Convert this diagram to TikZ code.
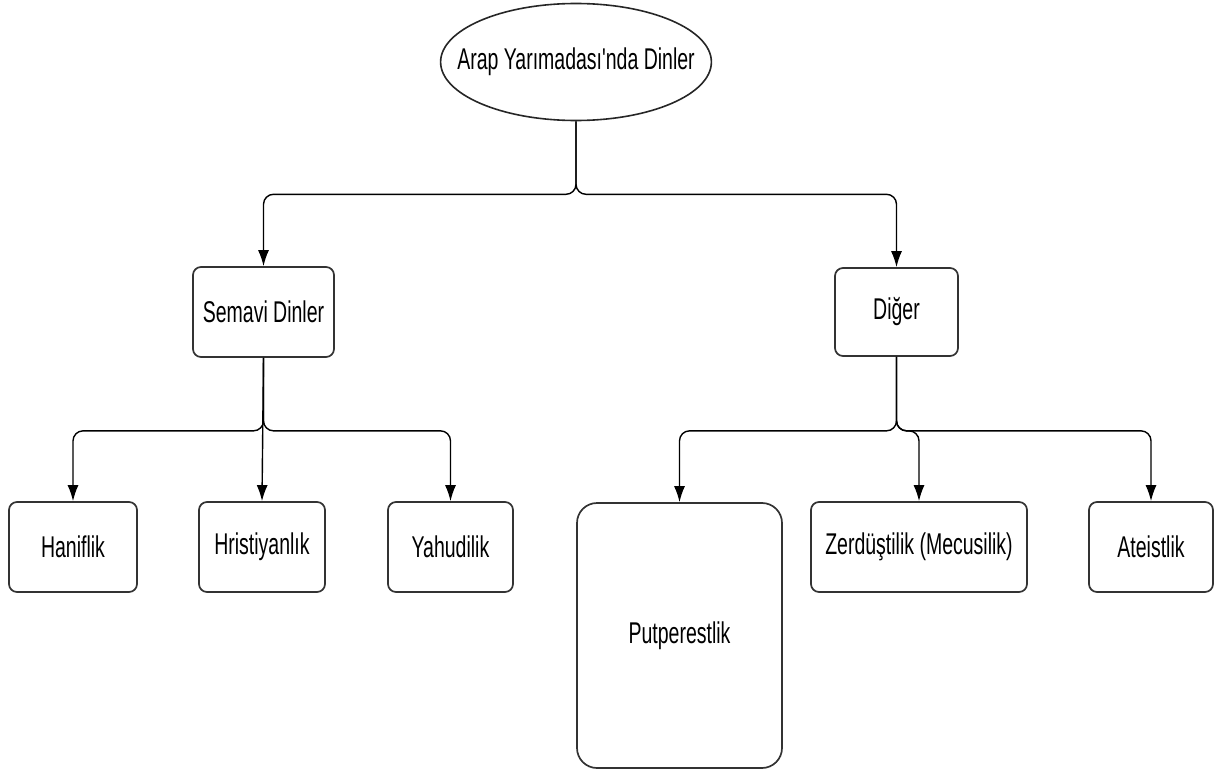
\documentclass[tikz,border=0pt]{standalone}
\usepackage{fontspec}
\setmainfont[FakeStretch=0.65, Ligatures=TeXOff]{Liberation Sans}
\usetikzlibrary{arrows.meta,shapes.geometric}
\begin{document}
\begin{tikzpicture}[x=1pt,y=-1pt,
  every node/.style={font=\fontsize{30}{33}\selectfont, text=black},
  box/.style={draw=black!80, line width=1.7pt, rounded corners=8pt, inner sep=0pt, minimum height=90pt},
  bigbox/.style={box, rounded corners=20pt},
  conn/.style={draw=black, line width=1.4pt, rounded corners=10pt, -{Latex[length=16pt,width=11pt]}}]
\useasboundingbox (0,0) rectangle (1216,776);
\node[ellipse, draw=black!85, line width=1.6pt, minimum width=267pt, minimum height=117pt, inner xsep=-23pt, inner ysep=0pt] (root) at (576,62) {Arap Yarımadası'nda Dinler};
\node[box, minimum width=141pt] (sem) at (263.5,312) {Semavi Dinler};
\node[box, minimum width=123pt, minimum height=88pt] (dig) at (896.5,312) {Diğer};
\node[box, minimum width=128pt] (han) at (73,547) {Haniflik};
\node[box, minimum width=126pt] (hri) at (262,547) {Hristiyanlık};
\node[box, minimum width=125pt] (yah) at (450.5,547) {Yahudilik};
\node[bigbox, minimum width=205pt, minimum height=265pt] (put) at (679.5,635.5) {Putperestlik};
\node[box, minimum width=216pt] (zer) at (919,547) {Zerdüştilik (Mecusilik)};
\node[box, minimum width=124pt] (ate) at (1151,547) {Ateistlik};
\draw[conn] (root.south) -- ++(0,73) -| (sem.north);
\draw[conn] (root.south) -- ++(0,73) -| (dig.north);
\draw[conn] (sem.south) -- ++(0,73) -| (han.north);
\draw[conn] (sem.south) -- (hri.north);
\draw[conn] (sem.south) -- ++(0,73) -| (yah.north);
\draw[conn] (dig.south) -- ++(0,74) -| (put.north);
\draw[conn] (dig.south) -- ++(0,74) -| (zer.north);
\draw[conn] (dig.south) -- ++(0,74) -| (ate.north);
\end{tikzpicture}
\end{document}
